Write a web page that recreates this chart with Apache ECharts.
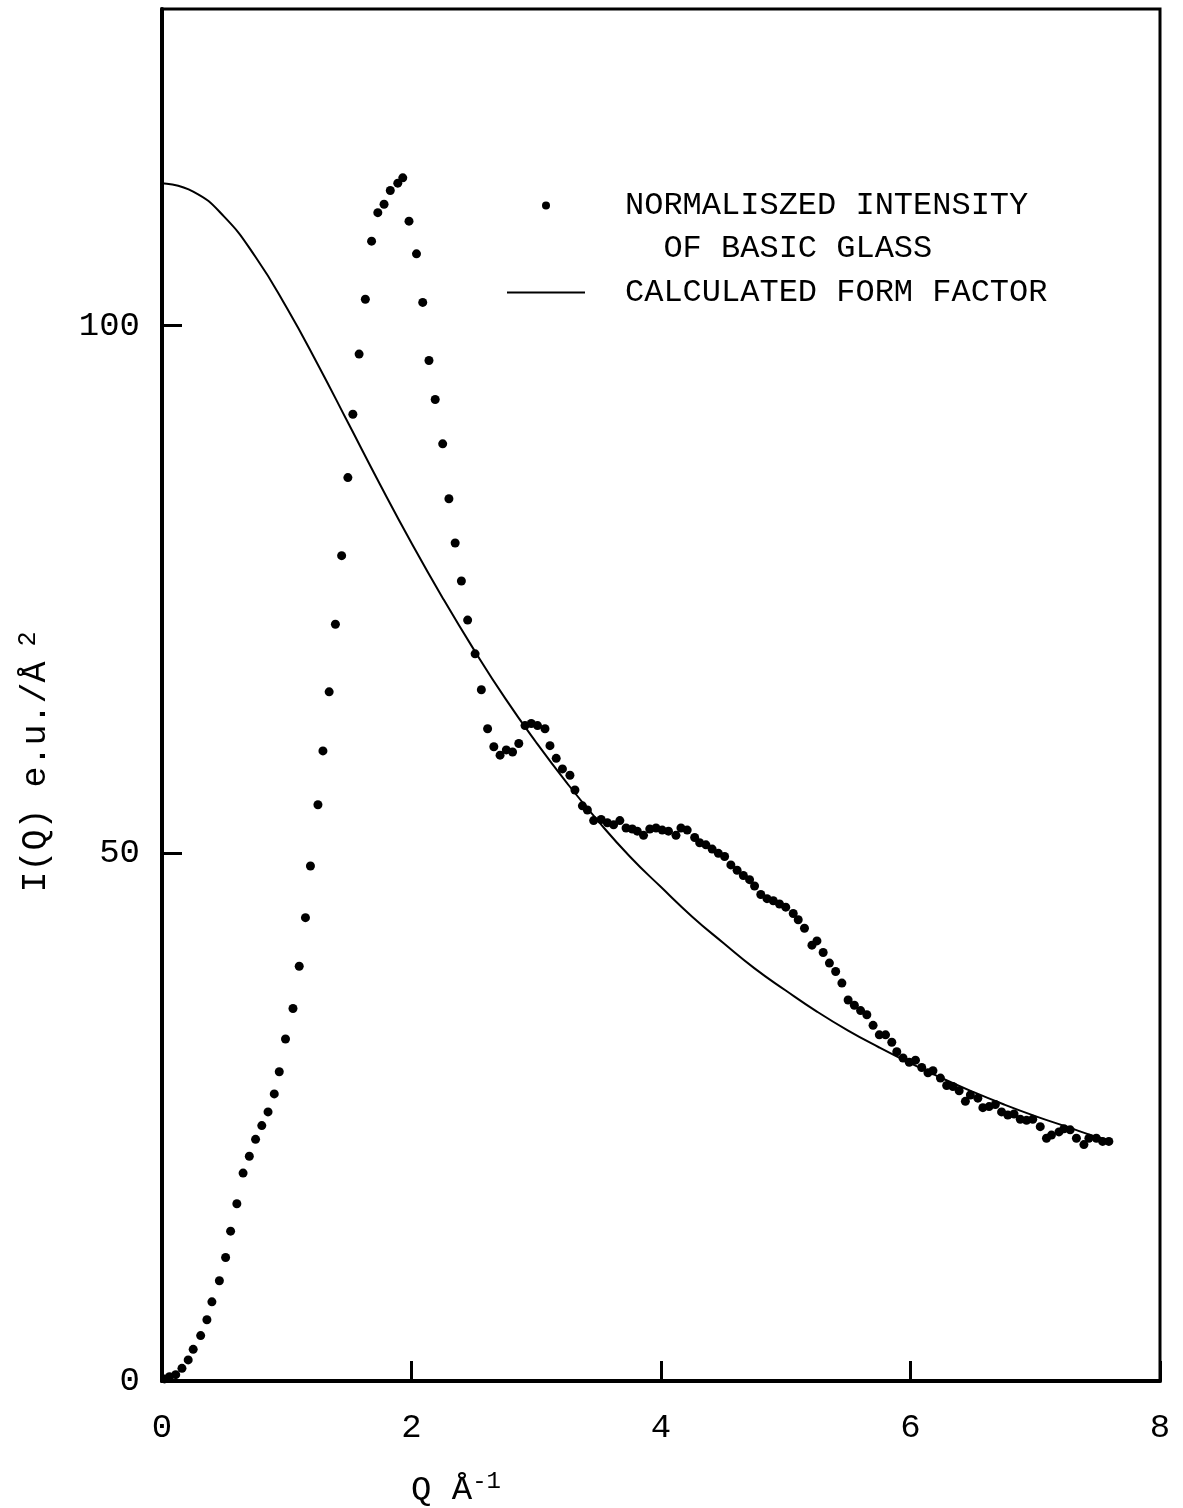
<!DOCTYPE html>
<html>
<head>
<meta charset="utf-8">
<script src="https://cdn.jsdelivr.net/npm/echarts@6/dist/echarts.min.js"></script>
<style>
  html, body { margin: 0; padding: 0; background: #fff; }
  #chart { width: 1183px; height: 1508px; }
</style>
</head>
<body>
<div id="chart"></div>
<script>
// Typewriter-like monospace face for every label
const FONT = '"Liberation Mono", "DejaVu Sans Mono", monospace';

// Measured scattering intensity of the basic glass: Q (1/Å) and I(Q) (e.u./Å²)
const intensityQ = [
  0.02, 0.06, 0.11, 0.16, 0.21, 0.25, 0.31, 0.36, 0.40, 0.46,
  0.51, 0.55, 0.60, 0.65, 0.70, 0.75, 0.80, 0.85, 0.90, 0.94,
  0.99, 1.05, 1.10, 1.15, 1.19, 1.25, 1.29, 1.34, 1.39, 1.44,
  1.49, 1.53, 1.58, 1.63, 1.68, 1.73, 1.78, 1.83, 1.89, 1.93,
  1.98, 2.04, 2.09, 2.14, 2.19, 2.25, 2.30, 2.35, 2.40, 2.45,
  2.51, 2.56, 2.61, 2.66, 2.71, 2.76, 2.81, 2.86, 2.91, 2.96,
  3.01, 3.07, 3.11, 3.16, 3.21, 3.27, 3.31, 3.37, 3.41, 3.46,
  3.52, 3.57, 3.62, 3.67, 3.72, 3.77, 3.81, 3.86, 3.91, 3.96,
  4.01, 4.06, 4.12, 4.16, 4.21, 4.27, 4.31, 4.36, 4.41, 4.46,
  4.51, 4.56, 4.61, 4.66, 4.71, 4.75, 4.80, 4.85, 4.90, 4.95,
  5.00, 5.06, 5.10, 5.15, 5.21, 5.25, 5.30, 5.35, 5.40, 5.45,
  5.50, 5.55, 5.60, 5.65, 5.70, 5.75, 5.80, 5.85, 5.89, 5.94,
  5.99, 6.04, 6.09, 6.14, 6.18, 6.24, 6.29, 6.34, 6.39, 6.44,
  6.48, 6.54, 6.58, 6.63, 6.68, 6.73, 6.78, 6.83, 6.88, 6.93,
  6.98, 7.04, 7.09, 7.13, 7.19, 7.23, 7.28, 7.33, 7.39, 7.43,
  7.49, 7.54, 7.59
];
const intensityI = [
  0.2, 0.4, 0.6, 1.2, 2.0, 3.0, 4.3, 5.8, 7.5, 9.5,
  11.7, 14.2, 16.8, 19.7, 21.3, 22.9, 24.2, 25.5, 27.2, 29.3,
  32.4, 35.3, 39.3, 43.9, 48.8, 54.6, 59.7, 65.3, 71.7, 78.2,
  85.6, 91.6, 97.3, 102.5, 108.0, 110.7, 111.5, 112.8, 113.5, 114.0,
  109.9, 106.8, 102.2, 96.7, 93.0, 88.8, 83.6, 79.4, 75.8, 72.1,
  68.9, 65.5, 61.8, 60.1, 59.3, 59.8, 59.6, 60.4, 62.1, 62.3,
  62.1, 61.8, 60.2, 59.0, 58.0, 57.4, 56.0, 54.5, 54.1, 53.1,
  53.2, 52.9, 52.7, 53.1, 52.4, 52.3, 52.1, 51.7, 52.3, 52.4,
  52.2, 52.1, 51.7, 52.4, 52.2, 51.5, 51.0, 50.8, 50.4, 50.0,
  49.7, 48.9, 48.4, 47.9, 47.5, 46.9, 46.1, 45.7, 45.5, 45.2,
  44.9, 44.3, 43.7, 42.9, 41.3, 41.7, 40.6, 39.6, 38.8, 37.7,
  36.1, 35.6, 35.1, 34.7, 33.7, 32.8, 32.8, 32.1, 31.2, 30.6,
  30.2, 30.4, 29.7, 29.2, 29.4, 28.7, 28.0, 27.9, 27.5, 26.5,
  27.1, 26.8, 25.9, 26.0, 26.2, 25.5, 25.2, 25.3, 24.8, 24.7,
  24.8, 24.1, 23.0, 23.3, 23.6, 23.9, 23.8, 23.0, 22.4, 23.0,
  23.0, 22.7, 22.7
];

// Calculated form factor
const formFactorQ = [
  0.00, 0.25, 0.50, 0.75, 1.00, 1.25, 1.50, 1.75, 2.00, 2.25,
  2.50, 2.75, 3.00, 3.25, 3.50, 3.75, 4.00, 4.25, 4.50, 4.75,
  5.00, 5.25, 5.50, 5.75, 6.00, 6.25, 6.50, 6.75, 7.00, 7.25,
  7.50, 7.60
];
const formFactorI = [
  113.5, 112.7, 110.3, 106.5, 101.7, 96.3, 90.6, 84.9, 79.4, 74.2,
  69.3, 64.7, 60.5, 56.6, 53.0, 49.7, 46.8, 44.0, 41.5, 39.1,
  37.0, 35.0, 33.2, 31.6, 30.1, 28.7, 27.4, 26.2, 25.1, 24.1,
  23.1, 22.8
];

// Axis ranges
const xRange = { min: 0, max: 8, interval: 2 };
const yRange = { min: 0, max: 130, interval: 50 };

const seriesNames = [
  'NORMALISZED INTENSITY\n  OF BASIC GLASS',
  'CALCULATED FORM FACTOR'
];
const xTitle = { main: 'Q Å', sup: '-1' };
const yTitle = { main: 'I(Q) e.u./Å', sup: ' 2' };

const chart = echarts.init(document.getElementById('chart'), null, { renderer: 'canvas' });

const axisCommon = {
  type: 'value',
  axisLine: { show: true, lineStyle: { color: '#000', width: 4 } },
  axisTick: { show: true, inside: true, length: 20, lineStyle: { color: '#000', width: 3 } },
  splitLine: { show: false },
  axisLabel: { fontFamily: FONT, fontSize: 34, color: '#000' }
};

chart.setOption({
  animation: false,
  backgroundColor: '#fff',
  grid: {
    left: 162, right: 23, top: 9, bottom: 127,
    show: true, borderColor: '#000', borderWidth: 3
  },
  xAxis: Object.assign({}, axisCommon, {
    min: xRange.min, max: xRange.max, interval: xRange.interval,
    axisLabel: Object.assign({}, axisCommon.axisLabel, { margin: 30 })
  }),
  yAxis: Object.assign({}, axisCommon, {
    min: yRange.min, max: yRange.max, interval: yRange.interval,
    axisLabel: Object.assign({}, axisCommon.axisLabel, { margin: 22, showMaxLabel: false })
  }),
  legend: {
    orient: 'vertical',
    left: 507,
    top: 141,
    padding: 0,
    itemGap: 1,
    itemWidth: 78,
    itemHeight: 8,
    selectedMode: false,
    data: [
      { name: seriesNames[0], icon: 'circle' },
      // plain thin stroke for the curve entry
      { name: seriesNames[1], icon: 'path://M0,0 L78,0 L78,2 L0,2 Z' }
    ],
    // leading empty line keeps the first text line level with the dot
    formatter: function (name) {
      return name.indexOf('\n') >= 0 ? '\n' + name : name;
    },
    textStyle: {
      fontFamily: FONT, fontSize: 32, color: '#000',
      lineHeight: 43, padding: [0, 0, 0, 35]
    }
  },
  graphic: [
    {
      type: 'text',
      left: 411,
      top: 1470,
      style: {
        text: '{m|' + xTitle.main + '}{s|' + xTitle.sup + '}',
        rich: {
          m: { fontFamily: FONT, fontSize: 34, fill: '#000' },
          s: { fontFamily: FONT, fontSize: 24, fill: '#000', padding: [0, 0, 16, 0] }
        }
      }
    },
    {
      type: 'text',
      x: 36,
      y: 762,
      rotation: Math.PI / 2,
      style: {
        text: '{m|' + yTitle.main + '}{s|' + yTitle.sup + '}',
        align: 'center',
        verticalAlign: 'middle',
        rich: {
          m: { fontFamily: FONT, fontSize: 35, fill: '#000' },
          s: { fontFamily: FONT, fontSize: 25, fill: '#000', padding: [0, 0, 16, 0] }
        }
      }
    }
  ],
  series: [
    {
      name: seriesNames[0],
      type: 'scatter',
      symbol: 'circle',
      symbolSize: 9,
      color: '#000',
      itemStyle: { color: '#000', opacity: 1 },
      data: intensityQ.map(function (q, i) { return [q, intensityI[i]]; })
    },
    {
      name: seriesNames[1],
      type: 'line',
      smooth: true,
      symbol: 'none',
      color: '#000',
      itemStyle: { color: '#000' },
      lineStyle: { color: '#000', width: 2 },
      data: formFactorQ.map(function (q, i) { return [q, formFactorI[i]]; })
    }
  ]
});
</script>
</body>
</html>
